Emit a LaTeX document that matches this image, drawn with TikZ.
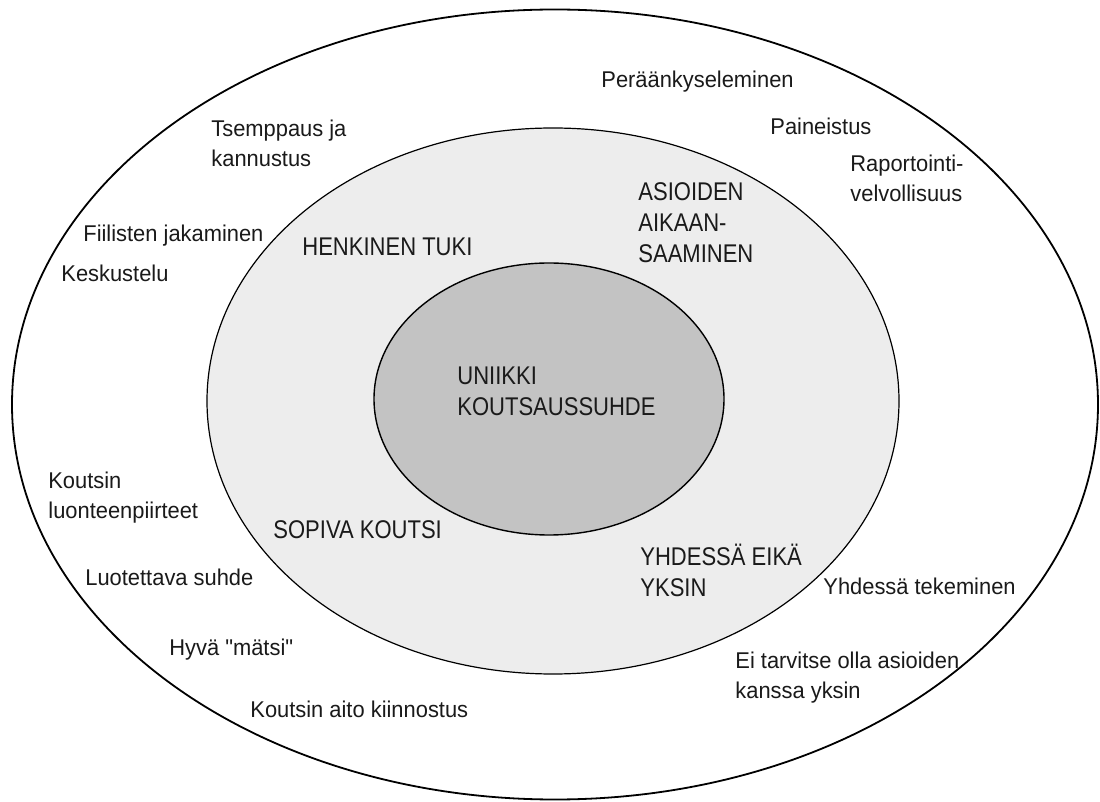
\documentclass[tikz,border=0pt]{standalone}
\usepackage{fontspec}
\setmainfont{Liberation Sans}
\newfontfamily\outerfont[FakeStretch=0.96]{Liberation Sans}
\newfontfamily\innerfont[FakeStretch=0.86]{Liberation Sans}
\usetikzlibrary{shapes.geometric}
\definecolor{ringfill}{HTML}{EDEDED}
\definecolor{corefill}{HTML}{C3C3C3}
\definecolor{txt}{HTML}{1A1A1A}
\tikzset{
  ring/.style={draw=black, ellipse, inner sep=0pt},
  outerlbl/.style={anchor=base west, align=left, inner sep=0pt, text=txt,
    font=\outerfont\fontsize{11.4}{15}\selectfont},
  innerlbl/.style={anchor=base west, align=left, inner sep=0pt, text=txt,
    font=\innerfont\fontsize{12.8}{15.5}\selectfont},
}
\begin{document}
\begin{tikzpicture}[x=0.5pt, y=-0.5pt]
\useasboundingbox (0,0) rectangle (1100,802);
\fill[white] (0,0) rectangle (1100,802);
% rings
\node[ring, line width=0.9pt, minimum width=543pt, minimum height=395pt] (outer) at (555,404.5) {};
\node[ring, fill=ringfill, line width=0.6pt, minimum width=346pt, minimum height=273pt] (middle) at (553,401) {};
\node[ring, fill=corefill, line width=0.7pt, minimum width=175pt, minimum height=136pt] (core) at (549,399) {};
% core label (base = last line)
\node[innerlbl] (uniikki) at (457,416) {UNIIKKI\\KOUTSAUSSUHDE};
% middle ring labels
\node[innerlbl] (henkinen) at (302,256) {HENKINEN TUKI};
\node[innerlbl] (asioiden) at (638,263) {ASIOIDEN\\AIKAAN-\\SAAMINEN};
\node[innerlbl] (sopiva) at (273,539) {SOPIVA KOUTSI};
\node[innerlbl] (yhdessa) at (640,597) {YHDESSÄ EIKÄ\\YKSIN};
% outer ring labels
\node[outerlbl] (peraan) at (601,88) {Peräänkyseleminen};
\node[outerlbl] (paine) at (770,135) {Paineistus};
\node[outerlbl] (raport) at (850,202) {Raportointi-\\velvollisuus};
\node[outerlbl] (tsemp) at (211,167) {Tsemppaus ja\\kannustus};
\node[outerlbl] (fiilis) at (83,242) {Fiilisten jakaminen};
\node[outerlbl] (kesk) at (61,282) {Keskustelu};
\node[outerlbl] (luonne) at (48,519) {Koutsin\\luonteenpiirteet};
\node[outerlbl] (luotet) at (85,586) {Luotettava suhde};
\node[outerlbl] (matsi) at (169,656) {Hyvä "mätsi"};
\node[outerlbl] (aito) at (250,718) {Koutsin aito kiinnostus};
\node[outerlbl] (tekem) at (823,595) {Yhdessä tekeminen};
\node[outerlbl] (eitarv) at (735,699) {Ei tarvitse olla asioiden\\kanssa yksin};
\end{tikzpicture}
\end{document}
